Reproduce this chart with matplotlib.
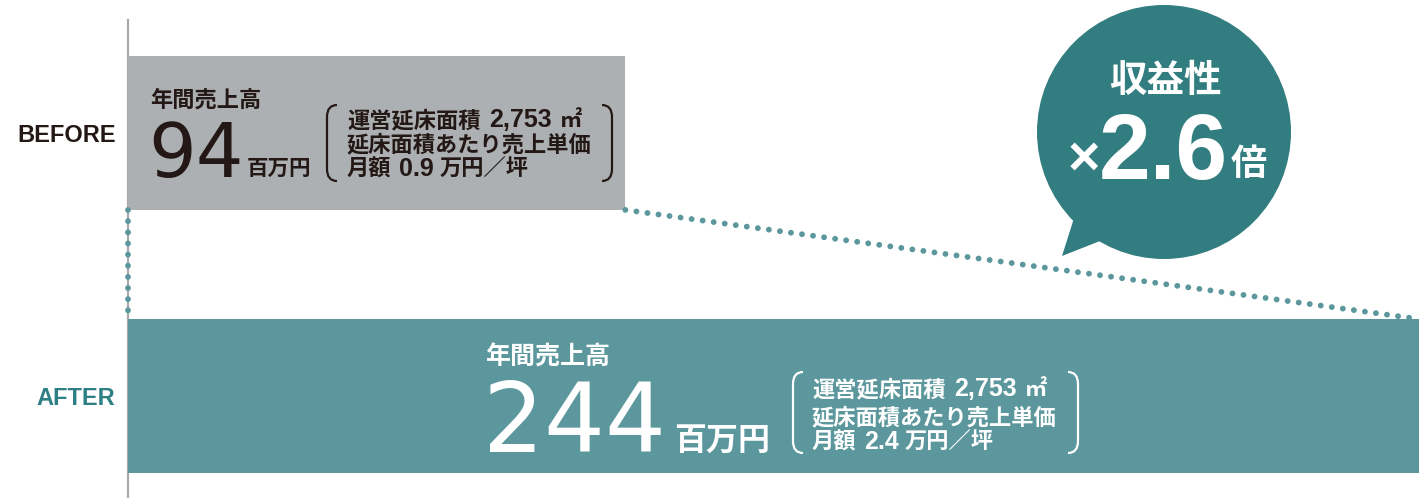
import matplotlib.pyplot as plt
from matplotlib.patches import Circle, Polygon, PathPatch
from matplotlib.path import Path

plt.rcParams['font.family'] = ['Liberation Sans', 'Noto Sans CJK JP']

categories = ["BEFORE", "AFTER"]
values = [94, 244]                       # 年間売上高 (百万円)
unit_price = ["0.9", "2.4"]              # 月額 万円／坪
floor_area = "2,753"
ratio = "2.6"

GRAY = "#adb0b2"
TEAL = "#5b979c"
DARK_TEAL = "#317d80"
INK = "#231815"
W, H = 1419, 498

NUM_FONT = ['DejaVu Sans', 'Noto Sans CJK JP']
JP_FONT = ['Noto Sans CJK JP']
LAT_FONT = ['Liberation Sans', 'Noto Sans CJK JP']

fig = plt.figure(figsize=(W / 100, H / 100), dpi=100)

# main bar axes: left spine sits at x=128px, bars 263px apart
ax = fig.add_axes([128 / W, 0, 1 - 128 / W, 1])
ypos = [0, 1]
bar_h = 0.585
ax.barh(ypos, values, height=bar_h, color=[GRAY, TEAL], zorder=2)
ax.set_xlim(0, max(values))
ax.set_ylim(365 / 263, -133 / 263)
ax.set_facecolor("none")
for s in ["top", "right", "bottom"]:
    ax.spines[s].set_visible(False)
ax.spines["left"].set_color("#a9a9a9")
ax.spines["left"].set_linewidth(1.6)
ax.spines["left"].set_bounds(-113 / 263, 365 / 263)
ax.spines["left"].set_zorder(1)
ax.set_xticks([])
ax.set_yticks(ypos)
ax.set_yticklabels(categories, fontsize=17, fontweight="bold")
ax.tick_params(axis="y", length=0, pad=9)
for lbl, c in zip(ax.get_yticklabels(), [INK, "#2e7f84"]):
    lbl.set_color(c)

# dotted connectors between the bars
y0 = ypos[0] + bar_h / 2
y1 = ypos[1] - bar_h / 2
dots = dict(color=TEAL, lw=4.2, linestyle=(0, (0.01, 1.9)),
            dash_capstyle="round", clip_on=False, zorder=3)
ax.plot([0, 0], [y0, y1], **dots)
ax.plot([values[0], values[1]], [y0, y1], **dots)

# overlay in pixel coordinates for the annotations
ov = fig.add_axes([0, 0, 1, 1])
ov.set_xlim(0, W)
ov.set_ylim(H, 0)
ov.axis("off")


def bracket(x, top, bot, side, color):
    w = 10 * side
    c = 12
    verts = [(x + w, top), (x, top), (x, top + c), (x, bot - c),
             (x, bot), (x + w, bot)]
    codes = [Path.MOVETO, Path.CURVE3, Path.CURVE3, Path.LINETO,
             Path.CURVE3, Path.CURVE3]
    ov.add_patch(PathPatch(Path(verts, codes), fill=False, ec=color, lw=1.6))


def chain(x, y, segs, color):
    # segs: (text, fontsize, family, gap before in points)
    prev = None
    for text, size, fam, gap in segs:
        kw = dict(fontsize=size, family=fam, fontweight="bold", color=color,
                  va="baseline", ha="left")
        if prev is None:
            prev = ov.text(x, y, text, **kw)
        else:
            prev = ov.annotate(text, xy=(1, y), xycoords=(prev, "data"),
                               xytext=(gap, 0), textcoords="offset points",
                               **kw)


def bar_note(i, x, title_base, title_size, num_size, num_base, unit_size,
             unit_gap, bx0, bx1, btop, bbot, text_x, line_base, color):
    ov.text(x, title_base, "年間売上高", fontsize=title_size, color=color,
            family=JP_FONT, fontweight="bold", va="baseline", ha="left")
    num = ov.text(x - 2, num_base, f"{values[i]}", fontsize=num_size,
                  color=color, family=NUM_FONT, va="baseline", ha="left")
    ov.annotate("百万円", xy=(1, num_base - 2), xycoords=(num, "data"),
                xytext=(unit_gap, 0), textcoords="offset points",
                fontsize=unit_size, color=color, family=JP_FONT,
                fontweight="bold", va="baseline", ha="left")
    bracket(bx0, btop, bbot, 1, color)
    bracket(bx1, btop, bbot, -1, color)
    chain(text_x, line_base[0],
          [("運営延床面積", 16, JP_FONT, 0),
           (floor_area, 18, LAT_FONT, 6.5),
           ("㎡", 16, JP_FONT, 5.5)], color)
    chain(text_x, line_base[1],
          [("延床面積あたり売上単価", 16, JP_FONT, 0)], color)
    chain(text_x, line_base[2],
          [("月額", 16, JP_FONT, 0),
           (unit_price[i], 18, LAT_FONT, 5.5),
           ("万円／坪", 16, JP_FONT, 4.5)], color)


bar_note(0, 150, 107, 16, 54, 177, 15.5, 2, 327, 612, 105, 181, 347,
         [127, 151, 176], INK)
bar_note(1, 485, 365, 18, 69, 452, 23, 6, 793, 1078, 372, 453, 812,
         [396, 424, 449], "white")

# speech bubble
ov.add_patch(Polygon([(1075, 215), (1062, 256), (1100, 241)],
                     closed=True, fc=DARK_TEAL, ec="none"))
ov.add_patch(Circle((1164, 132), 127, fc=DARK_TEAL, ec="none"))
ov.text(1165, 92, "収益性", fontsize=27, fontweight="bold", color="white",
        family=JP_FONT, ha="center", va="baseline")
ov.text(1100, 175, "×", fontsize=40, fontweight="bold", color="white",
        ha="right", va="baseline")
ov.text(1099, 179, ratio, fontsize=67, fontweight="bold", color="white",
        ha="left", va="baseline")
ov.text(1231, 175, "倍", fontsize=26, fontweight="bold", color="white",
        family=JP_FONT, ha="left", va="baseline")

fig.savefig("out.png", dpi=100)
